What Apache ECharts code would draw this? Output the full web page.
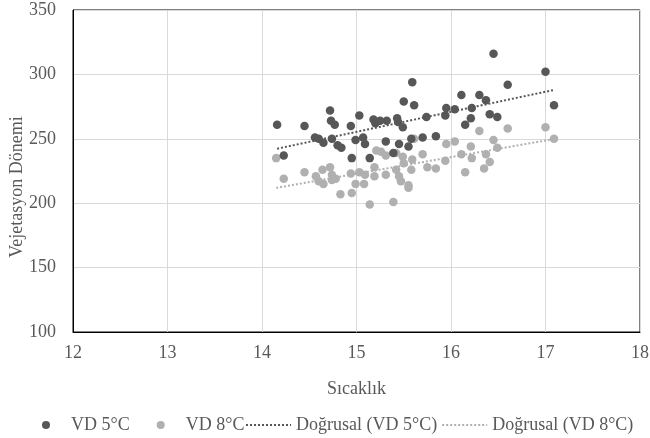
<!DOCTYPE html>
<html>
<head>
<meta charset="utf-8">
<script src="https://cdn.jsdelivr.net/npm/echarts@6/dist/echarts.min.js"></script>
<style>
  html, body { margin: 0; padding: 0; background: #fff; }
  #chart { width: 650px; height: 438px; }
</style>
</head>
<body>
<div id="chart"></div>
<script>
// VD 5°C points [sicaklik, gun]
const vd5 = [
  [14.16, 261], [14.23, 237], [14.45, 260], [14.72, 272], [14.73, 264], [14.77, 261],
  [14.56, 251], [14.60, 250], [14.65, 247], [14.74, 250], [14.80, 245], [14.84, 243],
  [14.94, 260], [14.95, 235], [14.99, 249], [15.03, 268], [15.07, 251], [15.09, 246],
  [15.14, 235], [15.18, 265], [15.20, 262], [15.25, 264], [15.32, 264], [15.31, 248],
  [15.39, 239], [15.43, 266], [15.44, 263], [15.49, 259], [15.45, 246], [15.50, 279],
  [15.61, 276], [15.59, 294], [15.55, 244], [15.58, 250], [15.70, 251], [15.74, 267],
  [15.84, 252], [15.95, 274], [15.94, 268], [16.04, 273], [16.11, 284], [16.22, 274],
  [16.21, 266], [16.15, 261], [16.30, 284], [16.37, 280], [16.41, 269], [16.49, 267],
  [16.45, 316], [16.60, 292], [17.00, 302], [17.09, 276]
];

// VD 8°C points
const vd8 = [
  [14.15, 235], [14.23, 219], [14.45, 224], [14.57, 221], [14.60, 217], [14.65, 215],
  [14.64, 226], [14.72, 228], [14.74, 222], [14.78, 219], [14.74, 218], [14.83, 207],
  [14.94, 223], [14.95, 208], [14.99, 215], [15.03, 224], [15.09, 222], [15.08, 215],
  [15.14, 199], [15.19, 228], [15.19, 221], [15.21, 241], [15.26, 240], [15.31, 237],
  [15.31, 222], [15.39, 201], [15.42, 226], [15.45, 221], [15.47, 217], [15.42, 239],
  [15.49, 236], [15.50, 231], [15.55, 214], [15.55, 212], [15.58, 226], [15.59, 234],
  [15.61, 250], [15.70, 238], [15.75, 228], [15.84, 227], [15.95, 246], [16.04, 248],
  [15.94, 233], [16.11, 238], [16.21, 244], [16.22, 235], [16.15, 224], [16.30, 256],
  [16.37, 238], [16.35, 227], [16.41, 232], [16.45, 249], [16.49, 243], [16.60, 258],
  [17.00, 259], [17.09, 250]
];

const seriesNames = ['VD 5°C', 'VD 8°C', 'Doğrusal (VD 5°C)', 'Doğrusal (VD 8°C)'];
const xTicks = [12, 18, 1];
const yTicks = [100, 350, 50];

// least squares line, like Excel's "Doğrusal" trendline
function trend(pts) {
  const n = pts.length;
  let sx = 0, sy = 0, sxx = 0, sxy = 0;
  pts.forEach(p => { sx += p[0]; sy += p[1]; sxx += p[0] * p[0]; sxy += p[0] * p[1]; });
  const b = (n * sxy - sx * sy) / (n * sxx - sx * sx);
  const a = (sy - b * sx) / n;
  const xs = pts.map(p => p[0]);
  const x0 = Math.min(...xs), x1 = Math.max(...xs);
  return [[x0, a + b * x0], [x1, a + b * x1]];
}

const font = 'Liberation Serif';
const txt = '#595959';
const chart = echarts.init(document.getElementById('chart'));

chart.setOption({
  animation: false,
  textStyle: { fontFamily: font },
  grid: {
    left: 73, right: 10, top: 10, bottom: 106,
    outerBoundsMode: 'none',
    show: true, borderColor: '#000', borderWidth: 1
  },
  legend: [
    {
      data: [
        { name: seriesNames[0], icon: 'circle' },
        { name: seriesNames[1], icon: 'circle' }
      ],
      left: 37, top: 411,
      itemWidth: 40, itemHeight: 8, itemGap: 27,
      textStyle: { fontFamily: font, fontSize: 18, color: txt }
    },
    {
      data: [seriesNames[2], seriesNames[3]],
      left: 240, top: 411,
      itemWidth: 45, itemHeight: 10, itemGap: 4,
      itemStyle: { opacity: 0 },
      textStyle: { fontFamily: font, fontSize: 18, color: txt }
    }
  ],
  xAxis: {
    type: 'value',
    min: xTicks[0], max: xTicks[1], interval: xTicks[2],
    name: 'Sıcaklık',
    nameLocation: 'middle',
    nameGap: 48,
    nameMoveOverlap: false,
    nameTextStyle: { fontFamily: font, fontSize: 18, color: txt },
    axisLine: { show: true, lineStyle: { color: '#000' } },
    axisTick: { show: false },
    axisLabel: { fontFamily: font, fontSize: 18, color: txt, margin: 12 },
    splitLine: { show: true, lineStyle: { color: '#d9d9d9', width: 1 } }
  },
  yAxis: {
    type: 'value',
    min: yTicks[0], max: yTicks[1], interval: yTicks[2],
    name: 'Vejetasyon Dönemi',
    nameLocation: 'middle',
    nameGap: 47,
    nameMoveOverlap: false,
    nameTextStyle: { fontFamily: font, fontSize: 18, color: txt, padding: [0, 32, 0, 0] },
    axisLine: { show: true, lineStyle: { color: '#000' } },
    axisTick: { show: false },
    axisLabel: { fontFamily: font, fontSize: 18, color: txt, margin: 17 },
    splitLine: { show: true, lineStyle: { color: '#d9d9d9', width: 1 } }
  },
  series: [
    {
      name: seriesNames[0],
      type: 'scatter',
      symbolSize: 8.5,
      itemStyle: { color: '#575757', opacity: 1 },
      data: vd5,
      z: 3
    },
    {
      name: seriesNames[1],
      type: 'scatter',
      symbolSize: 8.5,
      itemStyle: { color: '#b0b0b0', opacity: 1 },
      data: vd8,
      z: 2
    },
    {
      name: seriesNames[2],
      type: 'line',
      symbol: 'none',
      lineStyle: { color: '#575757', width: 2, type: [2, 2] },
      itemStyle: { color: '#575757' },
      data: trend(vd5),
      z: 4
    },
    {
      name: seriesNames[3],
      type: 'line',
      symbol: 'none',
      lineStyle: { color: '#b0b0b0', width: 2, type: [2, 2] },
      itemStyle: { color: '#b0b0b0' },
      data: trend(vd8),
      z: 4
    }
  ]
});
</script>
</body>
</html>
